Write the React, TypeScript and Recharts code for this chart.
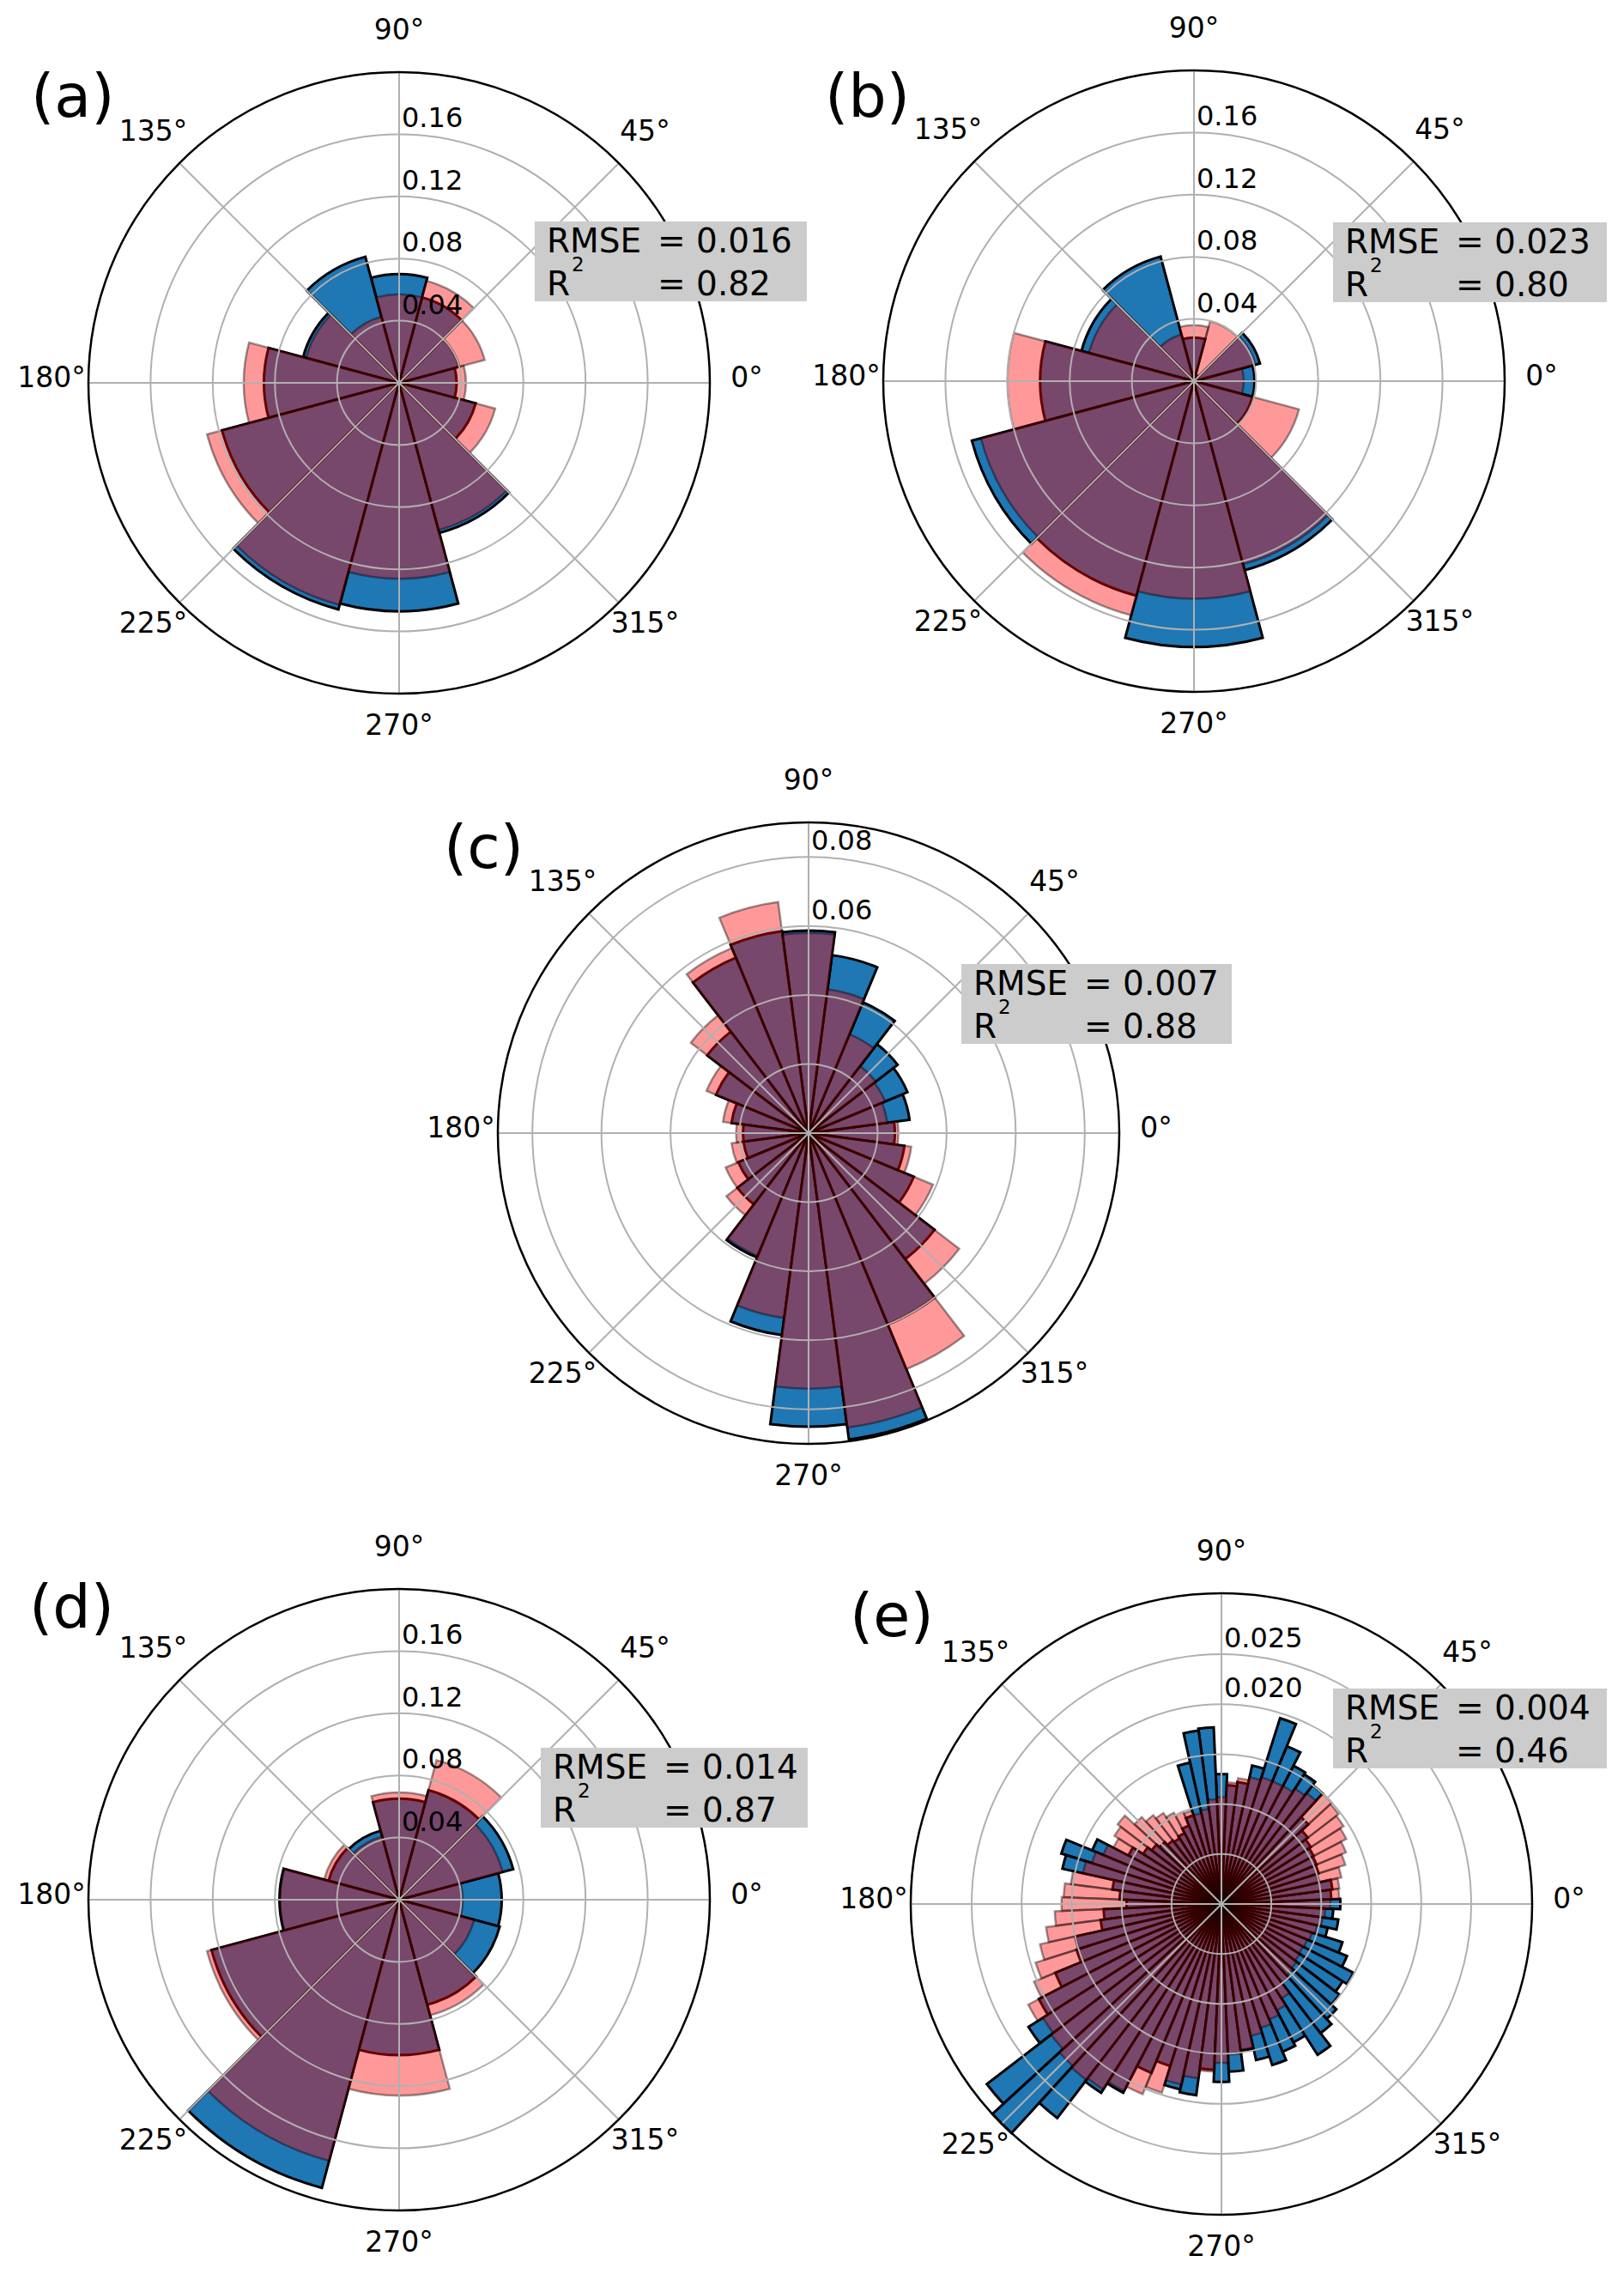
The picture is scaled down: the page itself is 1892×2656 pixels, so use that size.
import React from 'react';
import { RadialBarChart, RadialBar, PolarAngleAxis, PolarRadiusAxis, PolarGrid } from 'recharts';

// bin centres in degrees
const angles12 = [0, 30, 60, 90, 120, 150, 180, 210, 240, 270, 300, 330];
const angles24 = [0, 15, 30, 45, 60, 75, 90, 105, 120, 135, 150, 165, 180, 195, 210, 225, 240, 255, 270, 285, 300, 315, 330, 345];
const angles72 = [
  0, 5, 10, 15, 20, 25, 30, 35, 40, 45, 50, 55, 60, 65, 70, 75, 80, 85,
  90, 95, 100, 105, 110, 115, 120, 125, 130, 135, 140, 145, 150, 155, 160, 165, 170, 175,
  180, 185, 190, 195, 200, 205, 210, 215, 220, 225, 230, 235, 240, 245, 250, 255, 260, 265,
  270, 275, 280, 285, 290, 295, 300, 305, 310, 315, 320, 325, 330, 335, 340, 345, 350, 355,
];

// blue = observed, pink = modelled
const obsA = [0.037, 0.040, 0.057, 0.070, 0.084, 0.064, 0.087, 0.118, 0.151, 0.147, 0.100, 0.051];
const modA = [0.043, 0.057, 0.068, 0.057, 0.044, 0.062, 0.100, 0.128, 0.148, 0.126, 0.098, 0.064];

const obsB = [0.039, 0.044, 0.004, 0.028, 0.083, 0.075, 0.099, 0.148, 0.143, 0.171, 0.126, 0.039];
const modB = [0.032, 0.041, 0.040, 0.036, 0.031, 0.070, 0.120, 0.142, 0.156, 0.140, 0.122, 0.070];

const obsC = [
  0.025, 0.0295, 0.031, 0.0325, 0.041, 0.052, 0.0587, 0.059, 0.055, 0.037, 0.029, 0.0225,
  0.019, 0.019, 0.022, 0.026, 0.039, 0.059, 0.085, 0.0895, 0.060, 0.046, 0.033, 0.028,
];
const modC = [
  0.026, 0.023, 0.024, 0.0245, 0.031, 0.042, 0.058, 0.0675, 0.058, 0.043, 0.032, 0.025,
  0.021, 0.0225, 0.026, 0.030, 0.0385, 0.054, 0.074, 0.086, 0.074, 0.055, 0.039, 0.030,
];

const obsD = [0.066, 0.076, 0.073, 0.065, 0.046, 0.047, 0.077, 0.125, 0.192, 0.100, 0.070, 0.067];
const modD = [0.041, 0.069, 0.093, 0.069, 0.042, 0.050, 0.0765, 0.128, 0.174, 0.126, 0.077, 0.050];

const obsE = [
  0.0119, 0.0110, 0.0112, 0.0100, 0.0102, 0.0103, 0.0104, 0.0106, 0.0109, 0.0118, 0.0150, 0.0154,
  0.0156, 0.0171, 0.0195, 0.0142, 0.0123, 0.0119, 0.0130, 0.0177, 0.0175, 0.0145, 0.0093, 0.0085,
  0.0080, 0.0078, 0.0080, 0.0084, 0.0088, 0.0093, 0.0105, 0.0140, 0.0168, 0.0163, 0.0110, 0.0102,
  0.0095, 0.0118, 0.0122, 0.0150, 0.0152, 0.0180, 0.0206, 0.0229, 0.0296, 0.0311, 0.0270, 0.0224,
  0.0213, 0.0183, 0.0170, 0.0190, 0.0193, 0.0166, 0.0178, 0.0168, 0.0148, 0.0160, 0.0169, 0.0160,
  0.0156, 0.0179, 0.0163, 0.0156, 0.0149, 0.0144, 0.0149, 0.0136, 0.0127, 0.0109, 0.0118, 0.0112,
];
const modE = [
  0.0109, 0.0118, 0.0119, 0.0123, 0.0130, 0.0135, 0.0141, 0.0145, 0.0148, 0.0150, 0.0140, 0.0137,
  0.0133, 0.0133, 0.0133, 0.0130, 0.0127, 0.0122, 0.0107, 0.0105, 0.0096, 0.0093, 0.0098, 0.0100,
  0.0103, 0.0108, 0.0112, 0.0118, 0.0131, 0.0127, 0.0122, 0.0128, 0.0136, 0.0142, 0.0152, 0.0158,
  0.0160, 0.0167, 0.0177, 0.0186, 0.0195, 0.0203, 0.0218, 0.0212, 0.0215, 0.0220, 0.0222, 0.0220,
  0.0211, 0.0206, 0.0198, 0.0185, 0.0176, 0.0168, 0.0159, 0.0151, 0.0147, 0.0135, 0.0130, 0.0125,
  0.0120, 0.0112, 0.0100, 0.0097, 0.0095, 0.0093, 0.0092, 0.0093, 0.0095, 0.0098, 0.0102, 0.0104,
];

const thetaTicks = [0, 45, 90, 135, 180, 225, 270, 315];

const rTicksABD = [0.04, 0.08, 0.12, 0.16];
const rTicksC = [0.02, 0.04, 0.06, 0.08];
const rLabelsC = [0.06, 0.08];
const rTicksE = [0.005, 0.01, 0.015, 0.02, 0.025];
const rLabelsE = [0.02, 0.025];

const letters = ['(a)', '(b)', '(c)', '(d)', '(e)'];
const rmse = ['0.016', '0.023', '0.007', '0.014', '0.004'];
const r2 = ['0.82', '0.80', '0.88', '0.87', '0.46'];

const FONT = '"DejaVu Sans", Verdana, sans-serif';
const SIZE = 920;
const RADIUS = 362;

// page positions of each panel
const layout = [
  { cx: 465, cy: 446, lx: 36, ly: 136, bx: 623, by: 258, bw: 317 },
  { cx: 1391, cy: 444, lx: 961, ly: 136, bx: 1553, by: 259, bw: 319 },
  { cx: 942, cy: 1320, lx: 517, ly: 1011, bx: 1120, by: 1123, bw: 315 },
  { cx: 465, cy: 2213, lx: 34, ly: 1896, bx: 630, by: 2036, bw: 311 },
  { cx: 1423, cy: 2218, lx: 990, ly: 1906, bx: 1553, by: 1967, bw: 319 },
];

const AngleTick = (props: any) => {
  const { x, y, payload } = props;
  const a = (payload.value * Math.PI) / 180;
  const extra = 35;
  return (
    <text
      x={x + extra * Math.cos(a)}
      y={y - extra * Math.sin(a) - 7}
      textAnchor="middle"
      dominantBaseline="central"
      fontSize={33}
      fontFamily={FONT}
      fill="#000"
    >
      {payload.value}°
    </text>
  );
};

const radiusTick = (labels: number[], digits: number) => (props: any) => {
  const { x, y, payload } = props;
  const show = labels.some((l) => Math.abs(l - payload.value) < 1e-9);
  if (!show) return <g />;
  return (
    <text x={x + 3} y={y - 8} textAnchor="start" fontSize={32} fontFamily={FONT} fill="#000">
      {Number(payload.value).toFixed(digits)}
    </text>
  );
};

interface RoseProps {
  angles: number[];
  obs: number[];
  mod: number[];
  rMax: number;
  rTicks: number[];
  rLabels: number[];
  digits: number;
}

function Rose({ angles, obs, mod, rMax, rTicks, rLabels, digits }: RoseProps) {
  const data = angles.map((a, i) => ({ angle: a, obs: obs[i], mod: mod[i] }));
  return (
    <RadialBarChart
      width={SIZE}
      height={SIZE}
      data={data}
      cx="50%"
      cy="50%"
      innerRadius={0}
      outerRadius={RADIUS}
      startAngle={0}
      endAngle={360}
      layout="centric"
      barCategoryGap={0}
      barGap={0}
      margin={{ top: 0, right: 0, bottom: 0, left: 0 }}
    >
      {/* one angle axis per series so the two bar sets overlap instead of sitting side by side */}
      <PolarAngleAxis angleAxisId="obs" dataKey="angle" type="number" domain={[0, 360]} tick={false} tickLine={false} axisLine={false} />
      <PolarAngleAxis angleAxisId="mod" dataKey="angle" type="number" domain={[0, 360]} tick={false} tickLine={false} axisLine={false} />
      <PolarAngleAxis
        angleAxisId="deg"
        dataKey="angle"
        type="number"
        domain={[0, 360]}
        ticks={thetaTicks}
        tick={AngleTick}
        tickLine={false}
        tickSize={8}
        axisLineType="circle"
        axisLine={{ stroke: '#000', strokeWidth: 2.5 }}
      />
      <RadialBar
        angleAxisId="obs"
        dataKey="obs"
        fill="#1f77b4"
        stroke="#000"
        strokeWidth={3}
        isAnimationActive={false}
        zIndex={300}
      />
      <RadialBar
        angleAxisId="mod"
        dataKey="mod"
        fill="#ff0000"
        fillOpacity={0.4}
        stroke="#000"
        strokeOpacity={0.4}
        strokeWidth={2.5}
        isAnimationActive={false}
        zIndex={310}
      />
      <PolarGrid angleAxisId="deg" gridType="circle" stroke="#b0b0b0" strokeWidth={2} zIndex={450} />
      <PolarRadiusAxis
        type="number"
        domain={[0, rMax]}
        ticks={rTicks}
        angle={90}
        axisLine={false}
        tickLine={false}
        tick={radiusTick(rLabels, digits)}
      />
    </RadialBarChart>
  );
}

export default function App() {
  const panels = [
    { angles: angles12, obs: obsA, mod: modA, rMax: 0.2, rTicks: rTicksABD, rLabels: rTicksABD, digits: 2 },
    { angles: angles12, obs: obsB, mod: modB, rMax: 0.2, rTicks: rTicksABD, rLabels: rTicksABD, digits: 2 },
    { angles: angles24, obs: obsC, mod: modC, rMax: 0.09, rTicks: rTicksC, rLabels: rLabelsC, digits: 2 },
    { angles: angles12, obs: obsD, mod: modD, rMax: 0.2, rTicks: rTicksABD, rLabels: rTicksABD, digits: 2 },
    { angles: angles72, obs: obsE, mod: modE, rMax: 0.031, rTicks: rTicksE, rLabels: rLabelsE, digits: 3 },
  ];

  return (
    <div style={{ position: 'relative', width: 1892, height: 2656, overflow: 'hidden', background: '#fff' }}>
      <style>{'html,body{margin:0;padding:0;overflow:hidden;}'}</style>
      {panels.map((p, i) => (
        <div
          key={i}
          style={{ position: 'absolute', left: layout[i].cx - SIZE / 2, top: layout[i].cy - SIZE / 2, width: SIZE, height: SIZE }}
        >
          <Rose {...p} />
        </div>
      ))}
      <svg
        width={1892}
        height={2656}
        style={{ position: 'absolute', left: 0, top: 0, pointerEvents: 'none' }}
        fontFamily={FONT}
      >
        {layout.map((l, i) => (
          <g key={i}>
            <text x={l.lx} y={l.ly} fontSize={70} fill="#000">
              {letters[i]}
            </text>
            <rect x={l.bx} y={l.by} width={l.bw} height={93} fill="#cccccc" />
            <text x={l.bx + 14} y={l.by + 36} fontSize={39} fill="#000">RMSE</text>
            <text x={l.bx + 143} y={l.by + 36} fontSize={39} fill="#000">= {rmse[i]}</text>
            <text x={l.bx + 14} y={l.by + 86} fontSize={39} fill="#000">R</text>
            <text x={l.bx + 43} y={l.by + 58} fontSize={23} fill="#000">2</text>
            <text x={l.bx + 143} y={l.by + 86} fontSize={39} fill="#000">= {r2[i]}</text>
          </g>
        ))}
      </svg>
    </div>
  );
}
